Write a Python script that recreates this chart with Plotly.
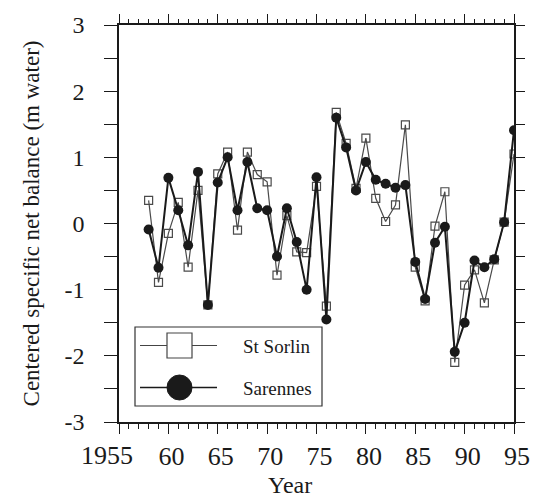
import plotly.graph_objects as go

years = list(range(1958, 1996))
st_sorlin = [0.35, -0.89, -0.15, 0.32, -0.66, 0.50, -1.23, 0.75, 1.08, -0.10,
             1.08, 0.74, 0.63, -0.78, 0.12, -0.43, -0.44, 0.56, -1.25, 1.68,
             1.21, 0.53, 1.29, 0.38, 0.03, 0.28, 1.49, -0.66, -1.17, -0.04,
             0.48, -2.10, -0.93, -0.70, -1.20, -0.55, 0.02, 1.05]
sarennes = [-0.09, -0.67, 0.69, 0.20, -0.33, 0.78, -1.23, 0.62, 1.00, 0.20,
            0.93, 0.23, 0.20, -0.50, 0.23, -0.28, -1.00, 0.70, -1.45, 1.60,
            1.15, 0.50, 0.93, 0.66, 0.60, 0.54, 0.58, -0.58, -1.14, -0.29,
            -0.05, -1.94, -1.50, -0.56, -0.66, -0.54, 0.02, 1.41]

x_tickvals = [1955, 1960, 1965, 1970, 1975, 1980, 1985, 1990, 1995]
x_ticktext = ["", "60", "65", "70", "75", "80", "85", "90", "95"]
first_year_label = "1955"
x_title = "Year"
y_tickvals = [-3, -2.5, -2, -1.5, -1, -0.5, 0, 0.5, 1, 1.5, 2, 2.5, 3]
y_ticktext = ["-3", "", "-2", "", "-1", "", "0", "", "1", "", "2", "", "3"]

FONT = "Liberation Serif, Times New Roman, serif"
INK = "#1a1a1a"

fig = go.Figure()
fig.add_trace(go.Scatter(
    x=years, y=st_sorlin, mode="lines+markers", name="St Sorlin",
    line=dict(color="#4a4a4a", width=1.2),
    marker=dict(symbol="square-open", size=8, color="#4a4a4a", line=dict(width=1.2)),
))
fig.add_trace(go.Scatter(
    x=years, y=sarennes, mode="lines+markers", name="Sarennes",
    line=dict(color=INK, width=2),
    marker=dict(symbol="circle", size=10, color=INK),
))
# invisible trace to anchor the mirrored top/right axes
fig.add_trace(go.Scatter(x=[years[0]], y=[sarennes[0]], xaxis="x2", yaxis="y2",
                         mode="markers", marker=dict(opacity=0), hoverinfo="skip",
                         showlegend=False))

# manual legend (decoration) in paper coordinates
L, R, T, B = 119, 514, 25, 422
W, H = R - L, B - T
def px(x):
    return (x - L) / W
def py(y):
    return (B - y) / H

shapes = [
    dict(type="rect", xref="paper", yref="paper", x0=px(135), x1=px(322), y0=py(406), y1=py(327),
         line=dict(color="#333", width=1.2), fillcolor="white", layer="above"),
    dict(type="line", xref="paper", yref="paper", x0=px(140), x1=px(217), y0=py(345.5), y1=py(345.5),
         line=dict(color="#444", width=1.2), layer="above"),
    dict(type="rect", xref="paper", yref="paper", x0=px(167), x1=px(192), y0=py(358), y1=py(333),
         line=dict(color="#444", width=1.2), fillcolor="white", layer="above"),
    dict(type="line", xref="paper", yref="paper", x0=px(140), x1=px(217), y0=py(387.5), y1=py(387.5),
         line=dict(color=INK, width=1.5), layer="above"),
    dict(type="circle", xref="paper", yref="paper", x0=px(167), x1=px(192), y0=py(400), y1=py(375),
         line=dict(color=INK, width=1), fillcolor=INK, layer="above"),
]
annotations = [
    dict(text="St Sorlin", xref="paper", yref="paper", x=px(241), y=py(346), xanchor="left",
         yanchor="middle", showarrow=False, font=dict(family=FONT, size=19, color=INK)),
    dict(text="Sarennes", xref="paper", yref="paper", x=px(241), y=py(388), xanchor="left",
         yanchor="middle", showarrow=False, font=dict(family=FONT, size=19, color=INK)),
    dict(text=first_year_label, xref="x", yref="paper", x=x_tickvals[0], y=0,
         xanchor="center", yanchor="middle", xshift=-12, yshift=-33, showarrow=False,
         font=dict(family=FONT, size=26, color=INK)),
    dict(text=x_title, xref="paper", yref="paper", x=px(290), y=0,
         xanchor="center", yanchor="middle", yshift=-63, showarrow=False,
         font=dict(family=FONT, size=24, color=INK)),
]

fig.update_layout(
    width=542, height=499,
    margin=dict(l=L, r=542 - R, t=T, b=499 - B),
    paper_bgcolor="white", plot_bgcolor="white",
    showlegend=False,
    font=dict(family=FONT, size=22, color=INK),
    shapes=shapes, annotations=annotations,
)
minor_x = dict(tickmode="linear", tick0=1955, dtick=1, ticks="outside", ticklen=5,
               tickwidth=1, tickcolor=INK)
fig.update_layout(
    xaxis=dict(
        range=[1955, 1995], tickmode="array", tickvals=x_tickvals, ticktext=x_ticktext,
        ticks="outside", ticklen=10, tickwidth=1.2, tickcolor=INK, minor=minor_x,
        showline=True, linecolor=INK, linewidth=1.5, mirror=True,
        showgrid=False, zeroline=False, ticklabelshift=3, tickangle=0, automargin=False,
        tickfont=dict(size=26),
    ),
    xaxis2=dict(
        range=[1955, 1995], overlaying="x", side="top", anchor="y2",
        tickmode="array", tickvals=x_tickvals, showticklabels=False,
        ticks="outside", ticklen=10, tickwidth=1.2, tickcolor=INK, minor=minor_x,
        showline=False, showgrid=False, zeroline=False, automargin=False,
    ),
    yaxis=dict(
        range=[-3, 3], tickmode="array", tickvals=y_tickvals, ticktext=y_ticktext,
        ticks="outside", ticklen=13, tickwidth=1.2, tickcolor=INK,
        showline=True, linecolor=INK, linewidth=1.5, mirror=True,
        showgrid=False, zeroline=False, ticklabelstandoff=15, automargin=False,
        tickfont=dict(size=24),
        title=dict(text="Centered specific net balance (m water)", font=dict(size=23), standoff=18),
    ),
    yaxis2=dict(
        range=[-3, 3], overlaying="y", side="right", anchor="x2",
        tickmode="array", tickvals=y_tickvals, showticklabels=False,
        ticks="outside", ticklen=10, tickwidth=1.2, tickcolor=INK,
        showline=False, showgrid=False, zeroline=False, automargin=False,
    ),
)

fig.write_html("out.html", config={"displayModeBar": False},
               post_script="document.body.style.margin='0';")
